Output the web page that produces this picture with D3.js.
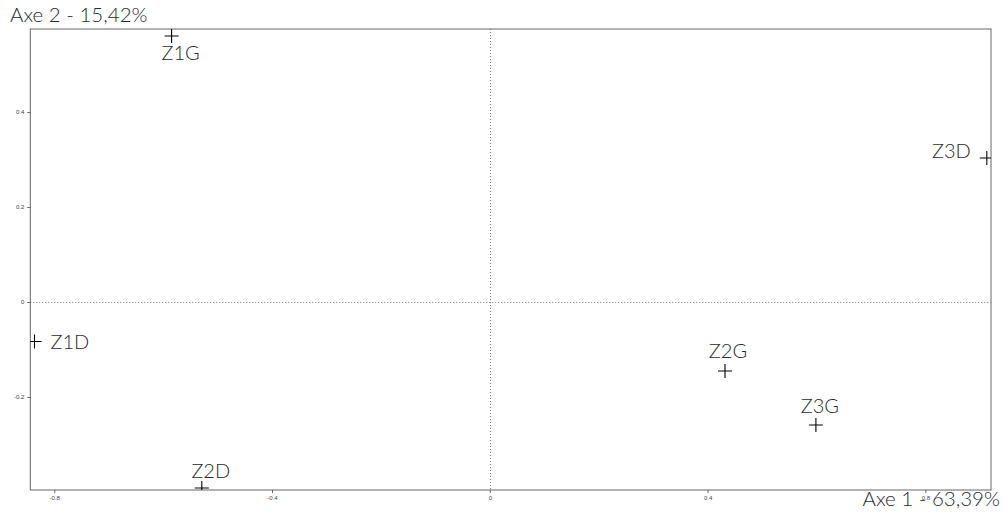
<!DOCTYPE html>
<html>
<head>
<meta charset="utf-8">
<script src="https://cdn.jsdelivr.net/npm/d3@7/dist/d3.min.js"></script>
<style>
html,body{margin:0;padding:0;background:#fff;}
svg{display:block;}
</style>
</head>
<body>
<svg id="chart" width="1005" height="520"></svg>
<script>
// ---- data ----
const labels = ["Z1G", "Z1D", "Z2G", "Z2D", "Z3G", "Z3D"];
const axis1 = [-0.5845, -0.8363, 0.432, -0.529, 0.599, 0.9129];
const axis2 = [0.560, -0.0832, -0.1453, -0.3916, -0.259, 0.3032];
const xTicks = [-0.8, -0.4, 0, 0.4, 0.8];
const yTicks = [-0.2, 0, 0.2, 0.4];
const xDomain = [-0.844, 0.9206];
const yDomain = [-0.3958, 0.5747];
const xTitle = "Axe 1 - 63,39%";
const yTitle = "Axe 2 - 15,42%";
// label placement (style): dx, dy from marker centre, anchor
const labelDx = [9, 16, 3, 9, 4, -16];
const labelDy = [24, 7, -13, -10, -12, 0];
const labelAnchor = ["middle", "start", "middle", "middle", "middle", "end"];

// ---- layout ----
const svg = d3.select("#chart");
const L = 30.3, R = 991, T = 29, B = 490;
const x = d3.scaleLinear().domain(xDomain).range([L, R]);
const y = d3.scaleLinear().domain(yDomain).range([B, T]);
const FONT = "Lato, sans-serif";

svg.append("defs").append("clipPath").attr("id", "clip")
  .append("rect").attr("x", L).attr("y", T).attr("width", R - L).attr("height", B - T);

// zero lines
svg.append("line").attr("x1", L).attr("x2", R).attr("y1", Math.round(y(0)) + 0.5).attr("y2", Math.round(y(0)) + 0.5)
  .attr("stroke", "#777").attr("stroke-width", 1).attr("stroke-dasharray", "1,2");
svg.append("line").attr("y1", T).attr("y2", B).attr("x1", Math.round(x(0)) + 0.5).attr("x2", Math.round(x(0)) + 0.5)
  .attr("stroke", "#777").attr("stroke-width", 1).attr("stroke-dasharray", "1,2");

// axes
const xAxis = d3.axisBottom(x).tickValues(xTicks).tickFormat(d => String(d)).tickSizeInner(3).tickSizeOuter(0).tickPadding(3);
const yAxis = d3.axisLeft(y).tickValues(yTicks).tickFormat(d => String(d)).tickSizeInner(3).tickSizeOuter(0).tickPadding(3);

const gx = svg.append("g").attr("transform", `translate(0,${B})`).call(xAxis);
const gy = svg.append("g").attr("transform", `translate(${L},0)`).call(yAxis);
[gx, gy].forEach(g => {
  g.select(".domain").remove();
  g.selectAll(".tick line").attr("stroke", "#666");
  g.selectAll(".tick text").attr("fill", "#444").style("font-family", "Liberation Sans, Arial, sans-serif").style("font-size", "6px");
});

// frame
svg.append("rect").attr("x", L).attr("y", T).attr("width", R - L).attr("height", B - T)
  .attr("fill", "none").attr("stroke", "#666").attr("stroke-width", 1);

// markers
const pts = labels.map((l, i) => ({ l, x: axis1[i], y: axis2[i], i }));
const mg = svg.append("g").attr("clip-path", "url(#clip)");
mg.selectAll("path.m").data(pts).enter().append("path")
  .attr("d", d => {
    const cx = x(d.x), cy = y(d.y), h = 7;
    return `M${cx - h},${cy}H${cx + h}M${cx},${cy - h}V${cy + h}`;
  })
  .attr("stroke", "#000").attr("stroke-width", 1.1).attr("fill", "none");

// labels
svg.selectAll("text.lab").data(pts).enter().append("text")
  .attr("class", "lab")
  .attr("x", d => x(d.x) + labelDx[d.i])
  .attr("y", d => y(d.y) + labelDy[d.i])
  .attr("text-anchor", d => labelAnchor[d.i])
  .attr("fill", "#2a2a2a")
  .style("font-family", FONT).style("font-weight", 300).style("font-size", "20px")
  .text(d => d.l);

// axis titles
svg.append("text").attr("x", 10).attr("y", 22).attr("fill", "#2a2a2a")
  .style("font-family", FONT).style("font-weight", 300).style("font-size", "20.5px").text(yTitle);
svg.append("text").attr("x", 1000).attr("y", 506).attr("text-anchor", "end").attr("fill", "#2a2a2a")
  .style("font-family", FONT).style("font-weight", 300).style("font-size", "20.5px").text(xTitle);
</script>
</body>
</html>
